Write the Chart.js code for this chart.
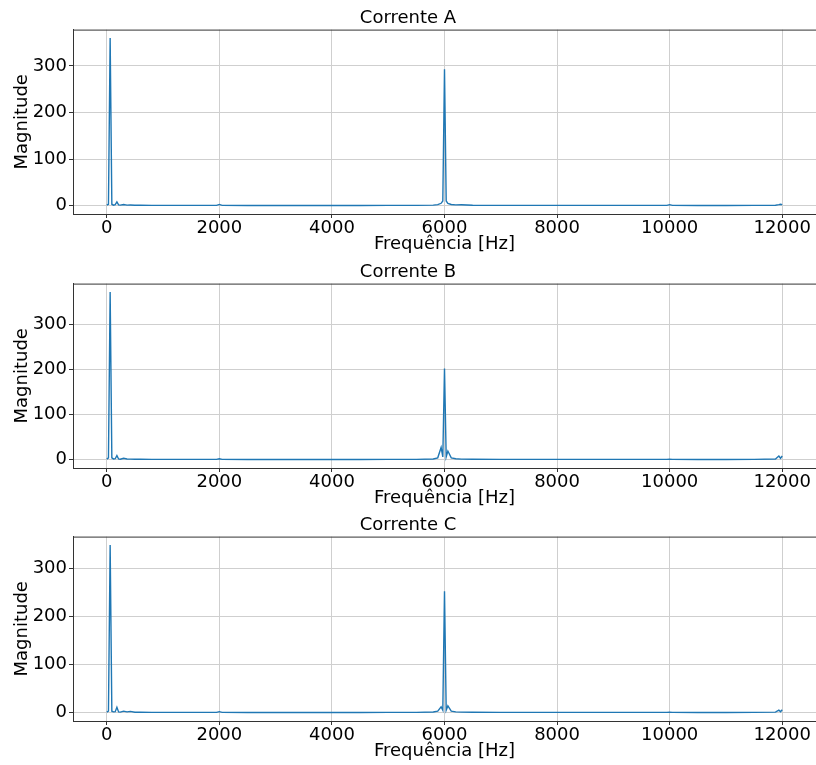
<!DOCTYPE html>
<html>
<head>
<meta charset="utf-8">
<script src="https://cdn.jsdelivr.net/npm/chart.js@4.4.1/dist/chart.umd.min.js"></script>
<style>
  html, body { margin: 0; padding: 0; background: #fff; overflow: hidden; width: 816px; height: 765px; }
  .wrap { position: absolute; left: 0; width: 820px; height: 256px; }
  canvas { display: block; }
</style>
</head>
<body>
<div class="wrap" style="top:0px"><canvas id="cA" width="820" height="256"></canvas></div>
<div class="wrap" style="top:254px"><canvas id="cB" width="820" height="256"></canvas></div>
<div class="wrap" style="top:507px"><canvas id="cC" width="820" height="256"></canvas></div>
<script>
// ---- data ----
const titles = ["Corrente A", "Corrente B", "Corrente C"];
const xTitle = "Frequência [Hz]";
const yTitle = "Magnitude";
const xTickValues = [0, 2000, 4000, 6000, 8000, 10000, 12000];
const yTickValues = [0, 100, 200, 300];

const freq = [0, 30, 60, 90, 120, 150, 180, 210, 240, 300, 360, 420, 500, 600, 800, 1000, 1500, 1950, 2000, 2050, 2500, 3000, 3500, 4000, 4500, 5000, 5500, 5800, 5880, 5940, 5970, 6000, 6030, 6060, 6120, 6200, 6300, 6500, 7000, 7500, 8000, 8500, 9000, 9500, 9950, 10000, 10050, 10500, 11000, 11500, 11880, 11940, 11970, 12000];

const magA = [1, 3, 360, 3, 1, 2, 8, 1.5, 1, 2.5, 1, 1.2, 0.8, 0.7, 0.6, 0.5, 0.5, 0.6, 2.5, 0.6, 0.4, 0.4, 0.4, 0.4, 0.4, 0.5, 0.6, 1, 2, 5, 10, 293, 10, 5, 2.5, 1.5, 2, 0.8, 0.5, 0.5, 0.5, 0.5, 0.5, 0.5, 0.5, 2, 0.5, 0.4, 0.4, 0.5, 0.8, 2, 3, 2];
const magB = [1, 4, 372, 4, 1.5, 2, 9, 1.5, 1, 3, 1.5, 1, 0.8, 0.7, 0.6, 0.5, 0.5, 0.6, 2, 0.6, 0.4, 0.4, 0.4, 0.4, 0.4, 0.5, 0.6, 1.5, 4, 27, 6, 202, 6, 19, 4, 2, 1, 0.7, 0.5, 0.5, 0.5, 0.5, 0.5, 0.5, 0.5, 1, 0.5, 0.4, 0.4, 0.5, 1.5, 8, 3, 8];
const magC = [1, 3, 348, 3, 1.5, 2, 11, 1.5, 1, 3, 1.5, 2.5, 0.8, 0.7, 0.6, 0.5, 0.5, 0.6, 2, 0.6, 0.4, 0.4, 0.4, 0.4, 0.4, 0.5, 0.6, 1.2, 3, 12, 5, 252, 5, 14, 3, 1.5, 1, 0.7, 0.5, 0.5, 0.5, 0.5, 0.5, 0.5, 0.5, 1, 0.5, 0.4, 0.4, 0.5, 1, 5, 2, 6];

// ---- drawing ----
const FONT = "'DejaVu Sans', 'Liberation Sans', sans-serif";
const lineColor = '#1f77b4';
const gridColor = '#cfcfcf';
const spineColor = '#333333';

const frameTop = {
  id: 'frameTop',
  afterDraw(chart) {
    const a = chart.chartArea, ctx = chart.ctx;
    ctx.save();
    ctx.strokeStyle = spineColor;
    ctx.lineWidth = 1;
    ctx.beginPath();
    ctx.moveTo(a.left, a.top + 0.5);
    ctx.lineTo(a.right, a.top + 0.5);
    ctx.stroke();
    ctx.restore();
  }
};

function makeChart(id, title, mags) {
  const maxV = Math.max(...mags);
  const pts = freq.map((f, i) => ({ x: f, y: mags[i] }));
  return new Chart(document.getElementById(id), {
    type: 'line',
    data: { datasets: [{ data: pts, borderColor: lineColor, borderWidth: 1.4, pointRadius: 0, tension: 0, fill: false }] },
    options: {
      responsive: false,
      animation: false,
      layout: { padding: { left: 0, right: 4, top: 0, bottom: 0 } },
      plugins: {
        legend: { display: false },
        tooltip: { enabled: false },
        title: { display: true, text: title, color: '#000', font: { family: FONT, size: 18, weight: 'normal', lineHeight: 1.2 }, padding: { top: 8, bottom: 0 } }
      },
      scales: {
        x: {
          type: 'linear',
          min: -600, max: 12600,
          afterBuildTicks: s => { s.ticks = xTickValues.map(v => ({ value: v })); },
          afterFit: s => { s.height = 42; },
          ticks: { color: '#000', font: { family: FONT, size: 18 }, padding: 0, maxRotation: 0, autoSkip: false, callback: v => String(v) },
          grid: { color: gridColor, lineWidth: 1, tickLength: 4, tickColor: spineColor },
          border: { color: spineColor, width: 1 },
          title: { display: true, text: xTitle, color: '#000', font: { family: FONT, size: 18, lineHeight: 1.2 }, padding: { top: 0, bottom: 1 } }
        },
        y: {
          type: 'linear',
          min: -0.05 * maxV, max: 1.05 * maxV,
          afterBuildTicks: s => { s.ticks = yTickValues.map(v => ({ value: v })); },
          afterFit: s => { s.width = 73; },
          ticks: { color: '#000', font: { family: FONT, size: 18 }, padding: 2, autoSkip: false, callback: v => String(v) },
          grid: { color: gridColor, lineWidth: 1, tickLength: 4, tickColor: spineColor },
          border: { color: spineColor, width: 1 },
          title: { display: true, text: yTitle, color: '#000', font: { family: FONT, size: 18, lineHeight: 1.2 }, padding: { top: 12, bottom: 0 } }
        }
      }
    },
    plugins: [frameTop]
  });
}

makeChart('cA', titles[0], magA);
makeChart('cB', titles[1], magB);
makeChart('cC', titles[2], magC);
</script>
</body>
</html>
